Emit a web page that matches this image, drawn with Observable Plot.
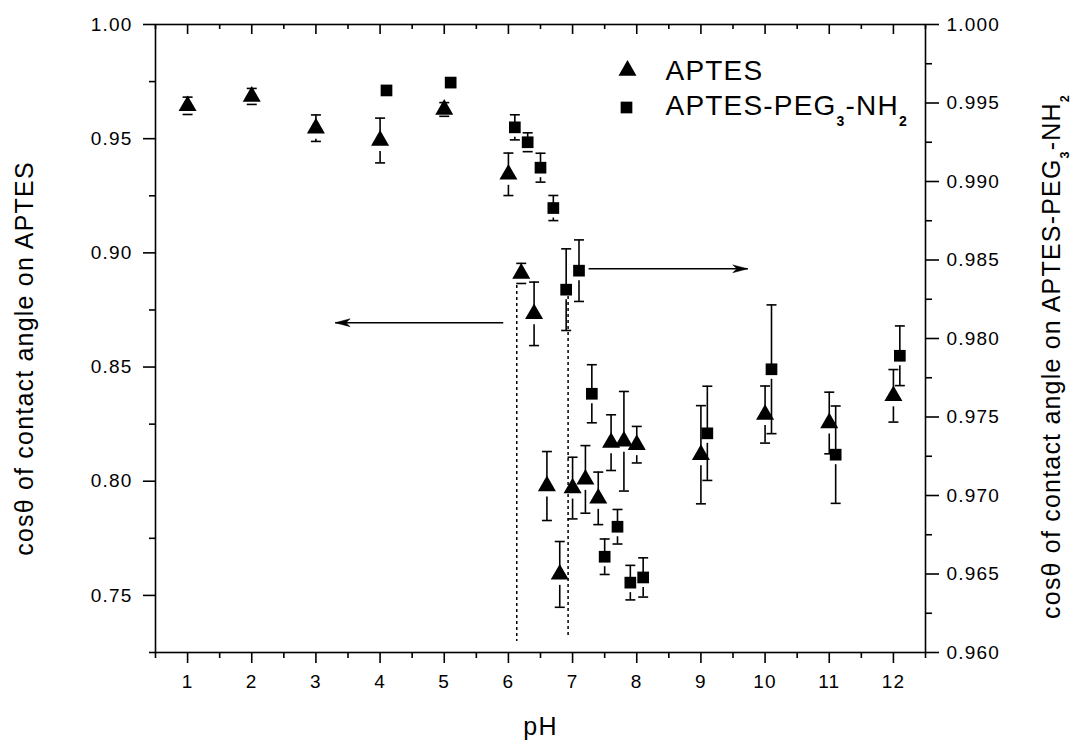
<!DOCTYPE html>
<html><head><meta charset="utf-8">
<script src="https://cdn.jsdelivr.net/npm/d3@7"></script>
<script src="https://cdn.jsdelivr.net/npm/@observablehq/plot@0.6"></script>
<style>
html,body{margin:0;padding:0;background:#fff;}
#chart svg text{letter-spacing:1.2px;}
</style></head><body><div id="chart"></div>
<script>
// ---- data ----
const aptesPH  = [1, 2, 3, 4, 5, 6.0, 6.2, 6.4, 6.6, 6.8, 7.0, 7.2, 7.4, 7.6, 7.8, 8.0, 9, 10, 11, 12];
const aptesCos = [0.9644, 0.9685, 0.9546, 0.9492, 0.9628, 0.9344, 0.8910, 0.8733, 0.7979, 0.7592, 0.7970, 0.8008, 0.7925, 0.8169, 0.8175, 0.8160, 0.8116, 0.8292, 0.8255, 0.8374];
const aptesErr = [0.0038, 0.0035, 0.0058, 0.0098, 0.0030, 0.0093, 0.0044, 0.0139, 0.0151, 0.0144, 0.0135, 0.0148, 0.0115, 0.0122, 0.0218, 0.0080, 0.0215, 0.0125, 0.0135, 0.0115];

const pegPH  = [4.1, 5.1, 6.1, 6.3, 6.5, 6.7, 6.9, 7.1, 7.3, 7.5, 7.7, 7.9, 8.1, 9.1, 10.1, 11.1, 12.1];
const pegCos = [0.9958, 0.9963, 0.99345, 0.9925, 0.99088, 0.98831, 0.98311, 0.98432, 0.97648, 0.96610, 0.96801, 0.96445, 0.96478, 0.97396, 0.97804, 0.97260, 0.97890];
const pegErr = [0, 0, 0.0008, 0.0006, 0.00092, 0.0008, 0.0026, 0.00196, 0.00185, 0.00113, 0.0011, 0.0011, 0.00125, 0.0030, 0.0041, 0.0031, 0.0019];

// guide lines (dashed verticals) in left-axis units
const guidePH     = [6.13, 6.93];
const guideTop    = [0.8857, 0.8835];
const guideBottom = [0.7298, 0.7311];

// arrows pointing to their axes
const arrowFrom = [5.92, 7.25];
const arrowTo   = [3.30, 9.73];
const arrowAxis = ["left", "right"];
const arrowVal  = [0.8694, 0.98444];

// axes
const xDomain = [0.5, 12.5];
const leftDomain = [0.725, 1.0];
const rightDomain = [0.960, 1.000];
const xMajor = [1, 2, 3, 4, 5, 6, 7, 8, 9, 10, 11, 12];
const xMinor = [0.5, 1.5, 2.5, 3.5, 4.5, 5.5, 6.5, 7.5, 8.5, 9.5, 10.5, 11.5, 12.5];
const leftMajor = [0.75, 0.80, 0.85, 0.90, 0.95, 1.00];
const leftMinor = [0.725, 0.775, 0.825, 0.875, 0.925, 0.975];
const rightMajor = [0.960, 0.965, 0.970, 0.975, 0.980, 0.985, 0.990, 0.995, 1.000];
const rightMinor = [0.9625, 0.9675, 0.9725, 0.9775, 0.9825, 0.9875, 0.9925, 0.9975];

const seriesNames = ["APTES", "APTES-PEG_3-NH_2"];
const xTitle = "pH";
const leftTitle = "cosθ of contact angle on APTES";
const rightTitle = "cosθ of contact angle on APTES-PEG_3-NH_2";

// ---- helpers ----
const toLeft = v => leftDomain[0] + (v - rightDomain[0]) * (leftDomain[1] - leftDomain[0]) / (rightDomain[1] - rightDomain[0]);
const fromLeft = v => rightDomain[0] + (v - leftDomain[0]) * (rightDomain[1] - rightDomain[0]) / (leftDomain[1] - leftDomain[0]);

const idxA = d3.range(aptesPH.length);
const idxP = d3.range(pegPH.length);
const idxG = d3.range(guidePH.length);
const idxR = d3.range(arrowFrom.length);

const capSymbol = {draw(ctx, size) { const w = Math.sqrt(size / Math.PI); ctx.moveTo(-w, 0); ctx.lineTo(w, 0); }};
const headSymbol = {draw(ctx, size) {
  const L = Math.sqrt(size / Math.PI);
  ctx.moveTo(0, 0); ctx.lineTo(-L, -L * 0.26); ctx.lineTo(-L * 0.72, 0); ctx.lineTo(-L, L * 0.26); ctx.closePath();
}};

const pegY = i => toLeft(pegCos[i]);
const pegHi = i => toLeft(pegCos[i] + pegErr[i]);
const pegLo = i => toLeft(pegCos[i] - pegErr[i]);
const arrowY = i => arrowAxis[i] === "right" ? toLeft(arrowVal[i]) : arrowVal[i];

const SW = 1.6;

const chart = Plot.plot({
  width: 1073, height: 745,
  marginLeft: 155, marginRight: 148, marginTop: 24, marginBottom: 93,
  x: {domain: xDomain},
  y: {domain: leftDomain},
  style: {fontFamily: "'Liberation Sans', Arial, sans-serif", fontSize: "19px", color: "black", background: "white"},
  marks: [
    // axes
    Plot.axisX(xMajor, {anchor: "bottom", tickSize: 11, tickPadding: 11, strokeWidth: SW, tickFormat: d => String(d), label: null}),
    Plot.axisX(xMinor, {anchor: "bottom", tickSize: 6, strokeWidth: SW, tickFormat: () => "", label: null}),
    Plot.axisX(xMajor, {anchor: "top", tickSize: 9, insetTop: 9, strokeWidth: SW, tickFormat: () => "", label: null}),
    Plot.axisX(xMinor, {anchor: "top", tickSize: 4, insetTop: 4, strokeWidth: SW, tickFormat: () => "", label: null}),
    Plot.axisY(leftMajor, {anchor: "left", tickSize: 12, tickPadding: 11, strokeWidth: SW, tickFormat: d3.format(".2f"), label: null}),
    Plot.axisY(leftMinor, {anchor: "left", tickSize: 6, strokeWidth: SW, tickFormat: () => "", label: null}),
    Plot.axisY(rightMajor.map(toLeft), {anchor: "right", tickSize: 13, tickPadding: 8, strokeWidth: SW, tickFormat: d => fromLeft(d).toFixed(3), label: null}),
    Plot.axisY(rightMinor.map(toLeft), {anchor: "right", tickSize: 6, strokeWidth: SW, tickFormat: () => "", label: null}),
    Plot.frame({strokeWidth: SW}),

    // dashed guides
    Plot.ruleX(idxG, {x: i => guidePH[i], y1: i => guideTop[i], y2: i => guideBottom[i], strokeDasharray: "3,3", strokeWidth: 1.5}),

    // arrows
    Plot.link(idxR, {x1: i => arrowFrom[i], x2: i => arrowTo[i], y1: arrowY, y2: arrowY, strokeWidth: 1.5}),
    Plot.dot(idxR, {x: i => arrowTo[i], y: arrowY, symbol: headSymbol, r: 15, fill: "black", stroke: "black", strokeWidth: 0.5, rotate: i => arrowTo[i] < arrowFrom[i] ? 180 : 0}),

    // APTES error bars
    Plot.ruleX(idxA, {x: i => aptesPH[i], y1: i => aptesCos[i] + aptesErr[i], y2: i => aptesCos[i], strokeWidth: SW}),
    Plot.ruleX(idxA.filter(i => aptesErr[i] > 0.0049), {x: i => aptesPH[i], y1: i => aptesCos[i], y2: i => aptesCos[i] - aptesErr[i], insetTop: 11, strokeWidth: SW}),
    Plot.dot(idxA, {x: i => aptesPH[i], y: i => aptesCos[i] + aptesErr[i], symbol: capSymbol, r: 5, fill: "none", stroke: "black", strokeWidth: SW}),
    Plot.dot(idxA, {x: i => aptesPH[i], y: i => aptesCos[i] - aptesErr[i], symbol: capSymbol, r: 5, fill: "none", stroke: "black", strokeWidth: SW}),
    Plot.dot(idxA, {x: i => aptesPH[i], y: i => aptesCos[i], symbol: "triangle", r: 6.7, fill: "black", stroke: "none"}),

    // APTES-PEG3-NH2 error bars
    Plot.ruleX(idxP.filter(i => pegErr[i] > 0), {x: i => pegPH[i], y1: pegHi, y2: pegY, strokeWidth: SW}),
    Plot.ruleX(idxP.filter(i => pegErr[i] > 0.00065), {x: i => pegPH[i], y1: pegY, y2: pegLo, insetTop: 10, strokeWidth: SW}),
    Plot.dot(idxP.filter(i => pegErr[i] > 0), {x: i => pegPH[i], y: pegHi, symbol: capSymbol, r: 5, fill: "none", stroke: "black", strokeWidth: SW}),
    Plot.dot(idxP.filter(i => pegErr[i] > 0), {x: i => pegPH[i], y: pegLo, symbol: capSymbol, r: 5, fill: "none", stroke: "black", strokeWidth: SW}),
    Plot.dot(idxP, {x: i => pegPH[i], y: pegY, symbol: "square", r: 6.6, fill: "black", stroke: "none"}),

    // legend
    Plot.dot([seriesNames[0]], {frameAnchor: "top-left", dx: 472, dy: 46, symbol: "triangle", r: 6.7, fill: "black"}),
    Plot.dot([seriesNames[1]], {frameAnchor: "top-left", dx: 471, dy: 83, symbol: "square", r: 6.6, fill: "black"}),
    Plot.text([seriesNames[0]], {frameAnchor: "top-left", dx: 510, dy: 47, textAnchor: "start", lineAnchor: "middle", fontSize: 28}),
    Plot.text([seriesNames[1]], {frameAnchor: "top-left", dx: 510, dy: 82, textAnchor: "start", lineAnchor: "middle", fontSize: 28}),

    // axis titles
    Plot.text([xTitle], {frameAnchor: "bottom", dy: 74, textAnchor: "middle", lineAnchor: "middle", fontSize: 25}),
    Plot.text([leftTitle], {frameAnchor: "left", dx: -131, dy: 20, rotate: -90, textAnchor: "middle", lineAnchor: "middle", fontSize: 25}),
    Plot.text([rightTitle], {frameAnchor: "right", dx: 126, dy: 18, rotate: -90, textAnchor: "middle", lineAnchor: "middle", fontSize: 25})
  ]
});

// turn "_n" into subscripts
chart.querySelectorAll("text").forEach(t => {
  const s = t.textContent;
  if (!/_\d/.test(s)) return;
  const parts = s.split(/_(\d)/);
  while (t.firstChild) t.removeChild(t.firstChild);
  const NS = "http://www.w3.org/2000/svg";
  let afterSub = false;
  parts.forEach((p, k) => {
    if (p === "") return;
    const ts = document.createElementNS(NS, "tspan");
    ts.textContent = p;
    if (k % 2 === 1) {
      ts.setAttribute("font-size", "0.5em");
      ts.setAttribute("font-weight", "bold");
      ts.setAttribute("dy", "0.75em");
      afterSub = true;
    } else if (afterSub) {
      ts.setAttribute("dy", "-0.375em");
      afterSub = false;
    }
    t.appendChild(ts);
  });
});

document.getElementById("chart").appendChild(chart);
</script></body></html>
